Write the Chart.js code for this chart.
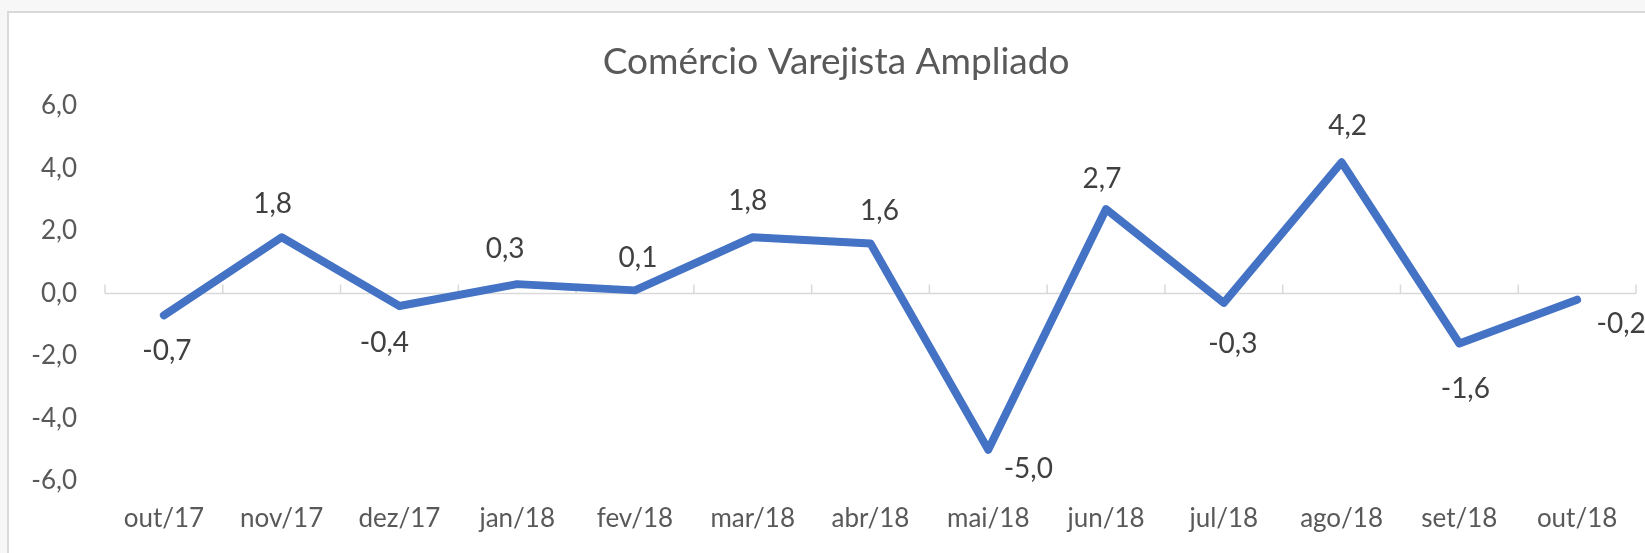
<!DOCTYPE html>
<html>
<head>
<meta charset="utf-8">
<script src="https://cdn.jsdelivr.net/npm/chart.js@4"></script>
<style>
  html, body { margin: 0; padding: 0; width: 1645px; height: 553px; overflow: hidden; background: #f7f7f7; }
  #frame { position: absolute; left: 7px; top: 11px; width: 1660px; height: 560px; background: #ffffff;
           border-left: 2px solid #d9d9d9; border-top: 2px solid #d9d9d9; }
  #wrap { position: absolute; left: 0; top: 0; width: 1645px; height: 553px; }
</style>
</head>
<body>
<div id="frame"></div>
<div id="wrap"><canvas id="c" width="1645" height="553"></canvas></div>
<script>
// ---- data ----
const chartTitle = 'Comércio Varejista Ampliado';
const categories = ['out/17', 'nov/17', 'dez/17', 'jan/18', 'fev/18', 'mar/18', 'abr/18',
                    'mai/18', 'jun/18', 'jul/18', 'ago/18', 'set/18', 'out/18'];
const values = [-0.7, 1.8, -0.4, 0.3, 0.1, 1.8, 1.6, -5.0, 2.7, -0.3, 4.2, -1.6, -0.2];
const yTickValues = [-6, -4, -2, 0, 2, 4, 6];

// ---- label placement (style, not data): [dx, dy] from each point ----
const labelOffsets = [[3, 35], [-9, -34], [-15, 36], [-12, -36], [3, -33], [-5, -37], [9, -34],
                      [40, 18], [-4, -31], [9, 40], [6, -37], [6, 44], [44, 23]];

const FONT = 'Lato, Carlito, Calibri, "Noto Sans", sans-serif';
const fmt = v => Number(v).toFixed(1).replace('.', ',');

const zeroAxisPlugin = {
  id: 'zeroAxis',
  beforeDatasetsDraw(chart) {
    const { ctx, chartArea, scales } = chart;
    const y0 = scales.y.getPixelForValue(0);
    const xs = scales.x;
    const n = categories.length;
    ctx.save();
    ctx.strokeStyle = '#d9d9d9';
    ctx.lineWidth = 1.5;
    ctx.beginPath();
    ctx.moveTo(chartArea.left, y0);
    ctx.lineTo(chartArea.right, y0);
    for (let i = 0; i <= n; i++) {
      const bx = xs.left + i * (xs.width / n);
      ctx.moveTo(bx, y0);
      ctx.lineTo(bx, y0 - 9);
    }
    ctx.stroke();
    ctx.restore();
  }
};

const dataLabelPlugin = {
  id: 'dataLabels',
  afterDatasetsDraw(chart) {
    const { ctx } = chart;
    const meta = chart.getDatasetMeta(0);
    const size = 28;
    ctx.save();
    ctx.font = size + 'px ' + FONT;
    ctx.fillStyle = '#404040';
    ctx.textAlign = 'center';
    ctx.textBaseline = 'alphabetic';
    meta.data.forEach((pt, i) => {
      const [dx, dy] = labelOffsets[i];
      ctx.fillText(fmt(values[i]), pt.x + dx, pt.y + dy + size * 0.36);
    });
    ctx.restore();
  }
};

const titlePlugin = {
  id: 'ownTitle',
  afterDraw(chart, args, opts) {
    const { ctx } = chart;
    ctx.save();
    ctx.font = opts.size + 'px ' + FONT;
    ctx.fillStyle = opts.color;
    ctx.textAlign = 'center';
    ctx.textBaseline = 'alphabetic';
    ctx.fillText(opts.text, opts.x, opts.baseline);
    ctx.restore();
  }
};

new Chart(document.getElementById('c'), {
  type: 'line',
  data: {
    labels: categories,
    datasets: [{
      data: values,
      borderColor: '#4472C4',
      backgroundColor: '#4472C4',
      borderWidth: 8,
      pointRadius: 0,
      pointHoverRadius: 0,
      tension: 0,
      borderCapStyle: 'round',
      borderJoinStyle: 'round',
      clip: false
    }]
  },
  options: {
    responsive: false,
    animation: false,
    devicePixelRatio: 1,
    layout: { padding: { top: 106, left: 0, right: 9, bottom: 0 } },
    plugins: {
      legend: { display: false },
      tooltip: { enabled: false },
      title: { display: false },
      ownTitle: { text: chartTitle, size: 37, color: '#595959', x: 836, baseline: 74 }
    },
    scales: {
      x: {
        offset: true,
        afterFit(scale) { scale.height = 72; },
        grid: { display: false, drawTicks: false },
        border: { display: false },
        ticks: { color: '#595959', font: { family: FONT, size: 26 }, padding: 22,
                 maxRotation: 0, autoSkip: false }
      },
      y: {
        min: -6, max: 6,
        afterFit(scale) { scale.width = 105; },
        afterBuildTicks(scale) { scale.ticks = yTickValues.map(v => ({ value: v })); },
        grid: { display: false, drawTicks: false },
        border: { display: false },
        ticks: { color: '#595959', font: { family: FONT, size: 26 }, padding: 28,
                 callback: v => fmt(v) }
      }
    }
  },
  plugins: [zeroAxisPlugin, dataLabelPlugin, titlePlugin]
});
</script>
</body>
</html>
